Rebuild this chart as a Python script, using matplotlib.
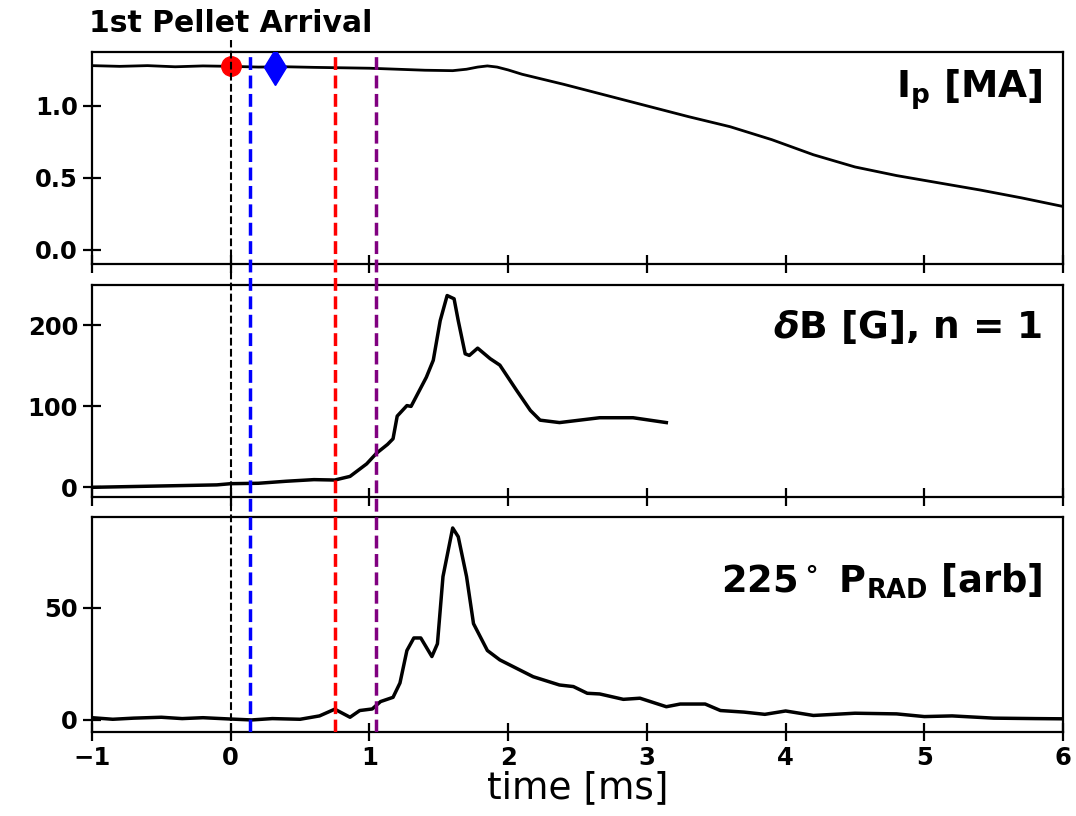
import matplotlib
matplotlib.use('Agg')
from matplotlib import pyplot as plt


# plasma current [MA]
ip_t = [-1.0, -0.8, -0.6, -0.4, -0.2, 0.0, 0.2, 0.4, 0.6, 0.8, 1.0, 1.2, 1.4, 1.6,
        1.7, 1.78, 1.85, 1.92, 2.0, 2.1, 2.4, 2.7, 3.0, 3.3, 3.6, 3.9, 4.2, 4.5,
        4.8, 5.1, 5.4, 5.7, 6.0]
ip_val = [1.28, 1.275, 1.28, 1.272, 1.278, 1.275, 1.27, 1.272, 1.268, 1.265, 1.262,
          1.255, 1.248, 1.245, 1.255, 1.27, 1.278, 1.27, 1.25, 1.22, 1.15, 1.075,
          1.0, 0.925, 0.855, 0.765, 0.66, 0.575, 0.515, 0.465, 0.415, 0.36, 0.30]

# n=1 mode amplitude [G]
db_t = [-1.0, -0.7, -0.4, -0.1, 0.0, 0.2, 0.4, 0.6, 0.75, 0.86, 0.98, 1.05, 1.13,
        1.17, 1.20, 1.27, 1.30, 1.41, 1.46, 1.51, 1.56, 1.61, 1.64, 1.69, 1.72,
        1.78, 1.87, 1.94, 2.06, 2.16, 2.23, 2.37, 2.66, 2.90, 3.14]
db_val = [0, 1, 2, 3, 4.5, 5, 7.5, 9.5, 9, 13.5, 29, 42, 53, 60, 88, 101, 100, 136,
          157, 206, 237, 233, 206, 165, 163, 172, 159, 151, 120, 95, 83, 80, 86, 86, 80]

# radiated power, 225 deg [arb]
prad_t = [-1.0, -0.85, -0.7, -0.5, -0.35, -0.2, 0.0, 0.15, 0.3, 0.5, 0.64, 0.75,
          0.86, 0.93, 1.02, 1.08, 1.17, 1.22, 1.27, 1.32, 1.37, 1.45, 1.49, 1.53,
          1.60, 1.64, 1.70, 1.75, 1.85, 1.94, 2.18, 2.37, 2.47, 2.57, 2.66, 2.83,
          2.95, 3.14, 3.24, 3.42, 3.53, 3.7, 3.85, 4.0, 4.2, 4.5, 4.8, 5.0, 5.2,
          5.5, 5.8, 6.0]
prad_val = [1.0, 0.3, 0.8, 1.2, 0.6, 1.0, 0.4, 0.0, 0.6, 0.3, 1.8, 4.8, 1.2, 4.2,
            4.9, 8.2, 10.1, 16.5, 31, 36.6, 36.6, 28.3, 34, 64, 85.7, 81.8, 64, 43,
            31, 26.8, 19.3, 15.6, 14.9, 11.9, 11.6, 9.2, 9.7, 5.9, 7.1, 7.1, 4.2,
            3.5, 2.5, 4.0, 2.0, 3.0, 2.7, 1.5, 1.8, 0.8, 0.6, 0.5]

# event times [ms]
t_arrival = 0.0
event_t = [0.14, 0.75, 1.05]
event_colors = ['blue', 'red', 'purple']
marker_circle = (0.0, 1.275)
marker_diamond = (0.32, 1.27)


def style(ax, labelbottom):
    for s in ax.spines.values():
        s.set_linewidth(1.6)
    ax.tick_params(direction='inout', length=13, width=1.6, labelsize=17.5,
                   labelbottom=labelbottom)
    for lab in ax.get_xticklabels() + ax.get_yticklabels():
        lab.set_fontweight('bold')
    ax.set_xlim(-1, 6)


def main():
    plt.rcParams['mathtext.fontset'] = 'custom'
    plt.rcParams['mathtext.rm'] = 'DejaVu Sans:bold'
    plt.rcParams['mathtext.bf'] = 'DejaVu Sans:bold'
    plt.rcParams['mathtext.it'] = 'DejaVu Sans:bold:italic'
    plt.rcParams['font.weight'] = 'bold'

    fig = plt.figure(figsize=(10.76, 8.16), dpi=100)
    left, width = 0.0855, 0.9025
    ax1 = fig.add_axes([left, 0.6765, width, 0.2598])
    ax2 = fig.add_axes([left, 0.3909, width, 0.2598], sharex=ax1)
    ax3 = fig.add_axes([left, 0.1029, width, 0.2635], sharex=ax1)

    ax1.plot(ip_t, ip_val, color='black', lw=2)
    ax1.set_ylim(-0.1, 1.375)
    ax1.set_yticks([0.0, 0.5, 1.0])
    ax1.plot(*marker_circle, 'o', color='red', ms=14, zorder=5)
    ax1.plot(*marker_diamond, 'd', color='blue', ms=18, zorder=5)
    ax1.text(0.979, 0.82, r'I$_\mathrm{p}$ [MA]', transform=ax1.transAxes,
             ha='right', va='center', fontsize=27, fontweight='bold')

    ax2.plot(db_t, db_val, color='black', lw=2.5)
    ax2.set_ylim(-12, 250)
    ax2.set_yticks([0, 100, 200])
    ax2.text(0.979, 0.80, r'$\delta$B [G], n = 1', transform=ax2.transAxes,
             ha='right', va='center', fontsize=27, fontweight='bold')

    ax3.plot(prad_t, prad_val, color='black', lw=2.5)
    ax3.set_ylim(-5.4, 90.6)
    ax3.set_yticks([0, 50])
    ax3.text(0.979, 0.70, r'225$^\circ$ P$_\mathrm{RAD}$ [arb]', transform=ax3.transAxes,
             ha='right', va='center', fontsize=26.5, fontweight='bold')
    ax3.set_xlabel('time [ms]', fontsize=27, fontweight='normal', labelpad=0)

    style(ax1, False)
    style(ax2, False)
    style(ax3, True)

    # vertical event lines drawn across all panels
    over = fig.add_axes([left, 0.1029, width, 0.951 - 0.1029], sharex=ax1)
    over.set_ylim(0, 1)
    over.axis('off')
    over.patch.set_alpha(0)
    over.axvline(t_arrival, ymin=0, ymax=1, color='black', ls='--', lw=1.5)
    for t, c in zip(event_t, event_colors):
        over.axvline(t, ymin=0, ymax=0.9827, color=c, ls='--', lw=2.5)
    over.text(t_arrival, 1.011, '1st Pellet Arrival', ha='center', va='baseline',
              fontsize=21.5, fontweight='bold')
    over.set_xlim(-1, 6)

    plt.savefig('out.png', dpi=100)


if __name__ == '__main__':
    main()
